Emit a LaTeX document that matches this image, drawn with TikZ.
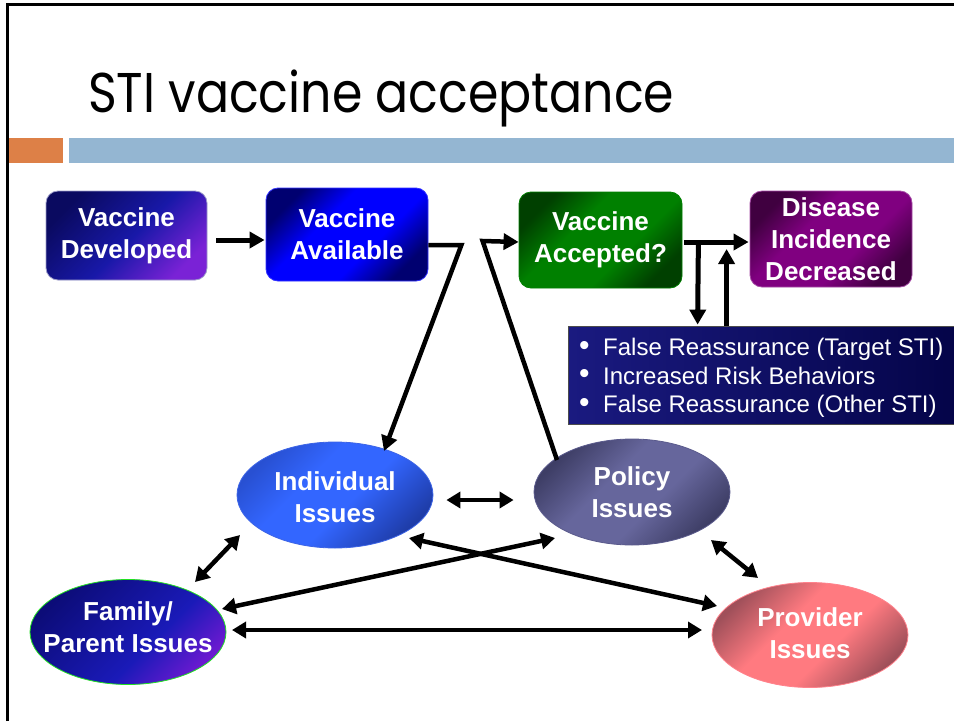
\documentclass[tikz,border=0pt]{standalone}
\usepackage{fontspec}
\setmainfont{Liberation Sans}
\newfontfamily\titlefont{Poppins}
\usetikzlibrary{shapes.geometric,arrows.meta,calc}
\definecolor{barorange}{HTML}{DD8047}
\definecolor{barblue}{HTML}{94B6D2}
\definecolor{famgreen}{HTML}{22E022}
\pgfdeclareverticalshading{devshade}{100bp}{color(0bp)=(rgb,255:red,122;green,34;blue,214); color(25bp)=(rgb,255:red,122;green,34;blue,214); color(48bp)=(rgb,255:red,24;green,24;blue,168); color(75bp)=(rgb,255:red,10;green,10;blue,96); color(100bp)=(rgb,255:red,10;green,10;blue,96)}
\pgfdeclareverticalshading{availshade}{100bp}{color(0bp)=(rgb,255:red,0;green,0;blue,112); color(25bp)=(rgb,255:red,0;green,0;blue,112); color(40bp)=(rgb,255:red,0;green,0;blue,255); color(60bp)=(rgb,255:red,0;green,0;blue,255); color(75bp)=(rgb,255:red,0;green,0;blue,112); color(100bp)=(rgb,255:red,0;green,0;blue,112)}
\pgfdeclareverticalshading{accshade}{100bp}{color(0bp)=(rgb,255:red,0;green,64;blue,0); color(25bp)=(rgb,255:red,0;green,64;blue,0); color(40bp)=(rgb,255:red,0;green,128;blue,0); color(60bp)=(rgb,255:red,0;green,128;blue,0); color(75bp)=(rgb,255:red,0;green,64;blue,0); color(100bp)=(rgb,255:red,0;green,64;blue,0)}
\pgfdeclareverticalshading{disshade}{100bp}{color(0bp)=(rgb,255:red,64;green,0;blue,64); color(25bp)=(rgb,255:red,64;green,0;blue,64); color(40bp)=(rgb,255:red,128;green,0;blue,128); color(60bp)=(rgb,255:red,128;green,0;blue,128); color(75bp)=(rgb,255:red,64;green,0;blue,64); color(100bp)=(rgb,255:red,64;green,0;blue,64)}
\pgfdeclareverticalshading{indshade}{100bp}{color(0bp)=(rgb,255:red,30;green,60;blue,168); color(25bp)=(rgb,255:red,30;green,60;blue,168); color(45bp)=(rgb,255:red,51;green,102;blue,255); color(60bp)=(rgb,255:red,51;green,102;blue,255); color(75bp)=(rgb,255:red,40;green,80;blue,210); color(100bp)=(rgb,255:red,40;green,80;blue,210)}
\pgfdeclareverticalshading{polshade}{100bp}{color(0bp)=(rgb,255:red,62;green,62;blue,102); color(25bp)=(rgb,255:red,62;green,62;blue,102); color(42bp)=(rgb,255:red,102;green,102;blue,156); color(58bp)=(rgb,255:red,102;green,102;blue,156); color(75bp)=(rgb,255:red,62;green,62;blue,102); color(100bp)=(rgb,255:red,62;green,62;blue,102)}
\pgfdeclareverticalshading{famshade}{100bp}{color(0bp)=(rgb,255:red,106;green,26;blue,208); color(25bp)=(rgb,255:red,106;green,26;blue,208); color(42bp)=(rgb,255:red,26;green,26;blue,184); color(75bp)=(rgb,255:red,12;green,12;blue,120); color(100bp)=(rgb,255:red,12;green,12;blue,120)}
\pgfdeclareverticalshading{proshade}{100bp}{color(0bp)=(rgb,255:red,160;green,80;blue,90); color(25bp)=(rgb,255:red,160;green,80;blue,90); color(42bp)=(rgb,255:red,255;green,122;blue,128); color(58bp)=(rgb,255:red,255;green,122;blue,128); color(75bp)=(rgb,255:red,160;green,80;blue,90); color(100bp)=(rgb,255:red,160;green,80;blue,90)}
\tikzset{
  box/.style={rectangle, rounded corners=12pt, inner sep=0pt, align=center, text=white,
    font=\bfseries\fontsize{26}{32}\selectfont, shade, shading angle=45, line width=0.8pt},
  oval/.style={ellipse, inner sep=0pt, minimum width=196pt, minimum height=106pt,
    shade, shading angle=45, line width=0.8pt},
  ovaltext/.style={inner sep=0pt, align=center, text=white, font=\bfseries\fontsize{26}{32}\selectfont},
  arr/.style={line width=5pt, -{Triangle[length=15pt,width=16pt]}},
  dbl/.style={line width=4.5pt, {Triangle[length=14pt,width=16pt]}-{Triangle[length=14pt,width=16pt]}},
  link/.style={line width=4.5pt, line join=miter},
}
\newcommand{\mybullet}{\makebox[24pt][l]{\raisebox{0.5pt}{\fontsize{30}{30}\selectfont\textbullet}}}
\begin{document}
\begin{tikzpicture}[x=1pt,y=-1pt]
\useasboundingbox (0,0) rectangle (954,721);
\clip (0,0) rectangle (954,721);
\fill[white] (0,0) rectangle (954,721);
% frame
\draw[line width=2.5pt] (7.5,721) -- (7.5,4.5) -- (960,4.5);
% title
\node[anchor=base west, inner sep=0pt, font=\titlefont\fontsize{56}{60}\selectfont] (title) at (88,112) {\scalebox{0.875}[1]{STI vaccine acceptance}};
% bars
\fill[barorange] (9,138) rectangle (63,163);
\fill[barblue] (69,138) rectangle (960,163);
% boxes
\node[box, shading=devshade, draw=blue!30!gray!60, minimum width=161pt, minimum height=89pt] (dev) at (126.5,235.5) {Vaccine\\Developed};
\node[box, shading=availshade, draw=blue!80, minimum width=162pt, minimum height=93pt] (avail) at (347,234.5) {Vaccine\\Available};
\node[box, shading=accshade, draw=green!50!black, minimum width=163pt, minimum height=96pt] (acc) at (600.5,240) {Vaccine\\Accepted?};
\node[box, shading=disshade, draw=violet!70, minimum width=162pt, minimum height=96pt] (dis) at (831,239) {Disease\\Incidence\\Decreased};
% bullet box
\node[rectangle, inner sep=0pt, minimum width=392pt, minimum height=98pt, left color={rgb,255:red,26;green,26;blue,128}, right color={rgb,255:red,4;green,4;blue,72}, draw=black!70, line width=0.8pt] (bul) at (764,375) {};
\node[anchor=north west, inner sep=0pt, align=left, text=white, font=\fontsize{24}{28.5}\selectfont] (bultext) at (579,338)
  {\mybullet False Reassurance (Target STI)\\
   \mybullet Increased Risk Behaviors\\
   \mybullet False Reassurance (Other STI)};
% ellipses
\node[oval, shading=indshade, draw={rgb,255:red,60;green,100;blue,230}] (ind) at (335,495) {};
\node[ovaltext] at ($(ind.center)+(0,2)$) {Individual\\Issues};
\node[oval, shading=polshade, draw={rgb,255:red,90;green,90;blue,140}] (pol) at (632,492) {};
\node[ovaltext] at (pol.center) {Policy\\Issues};
\node[oval, shading=famshade, draw=famgreen, minimum height=105pt] (fam) at (128,632) {};
\node[ovaltext] at ($(fam.center)+(0,-5)$) {Family/\\Parent Issues};
\node[oval, shading=proshade, draw={rgb,255:red,255;green,130;blue,140}, minimum height=105pt] (pro) at (810,635) {};
\node[ovaltext] at ($(pro.center)+(0,-2)$) {Provider\\Issues};
% top arrows
\draw[arr] ($(dev.east)+(9,4.5)$) -- ($(avail.west)+(-1,5.5)$);
\draw[arr] ($(acc.east)+(2,2)$) -- ($(dis.west)+(-1,3)$);
\draw[arr] ($(acc.east)+(16,2)$) -- ($(bul.north west)+(130,-1)$);
\draw[arr] ($(bul.north west)+(159,0)$) -- ($(dis.west)+(-23,10)$);
% links from available / to accepted
\draw[link, -{Triangle[length=15pt,width=16pt]}] ($(avail.east)+(0,10.5)$) -- ++(33,0) -- ($(ind.center)+(49,-44)$);
\draw[link, -{Triangle[length=15pt,width=16pt]}] ($(pol.center)+(-75,-32)$) -- ($(acc.west)+(-36,1)$) -- ($(acc.west)+(0,2)$);
% double arrows
\draw[dbl] ($(ind.east)+(13,5)$) -- ($(pol.west)+(-20,8)$);
\draw[dbl] ($(ind.center)+(-95,40)$) -- ($(fam.center)+(67,-50)$);
\draw[dbl] ($(pol.center)+(-77,46)$) -- ($(fam.center)+(94,-23)$);
\draw[dbl] ($(ind.center)+(74,43)$) -- ($(pro.center)+(-93,-29)$);
\draw[dbl] ($(fam.center)+(104,-2)$) -- ($(pro.center)+(-108,-5)$);
\draw[dbl] ($(pol.center)+(79,48)$) -- ($(pro.center)+(-52,-57)$);
\end{tikzpicture}
\end{document}
